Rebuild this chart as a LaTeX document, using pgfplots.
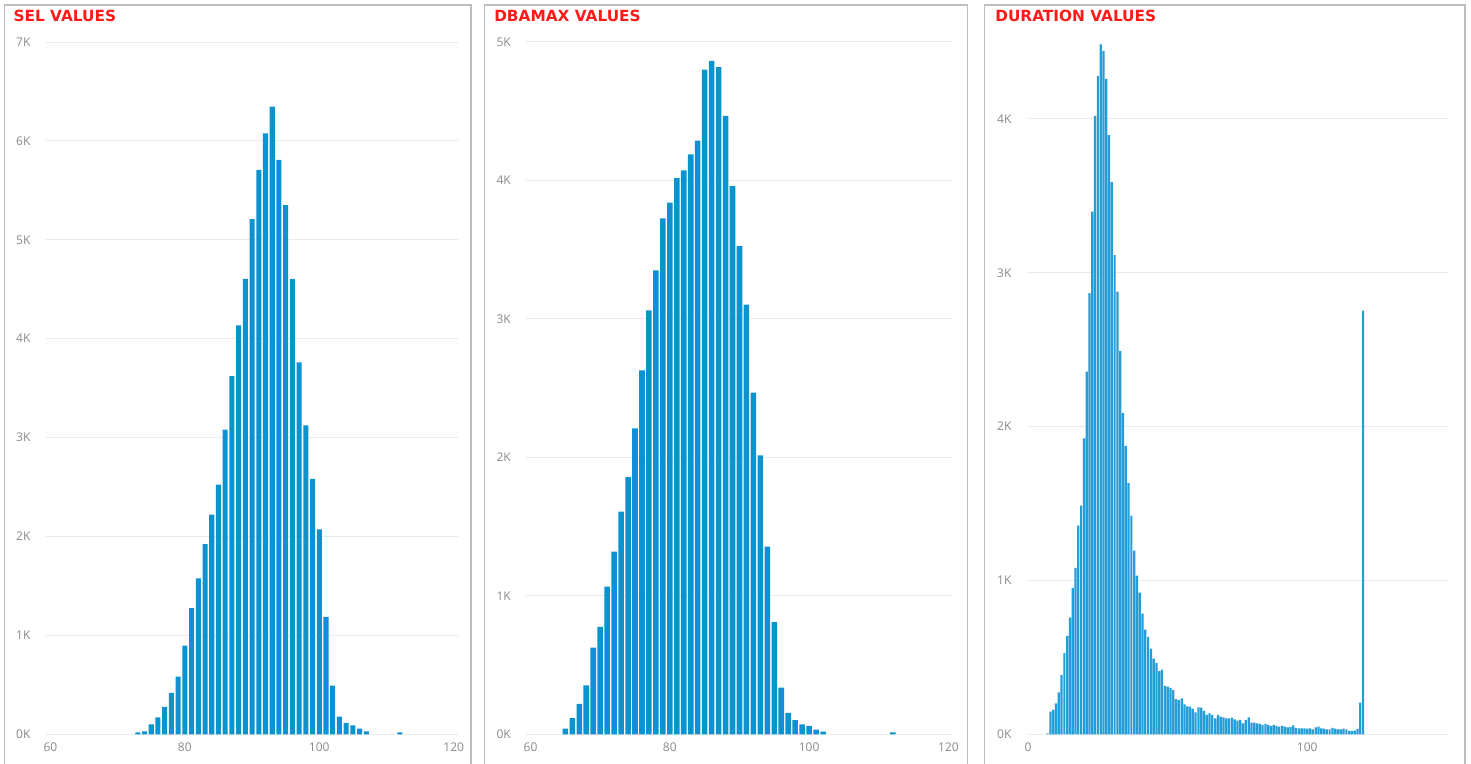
\documentclass[border=0pt]{standalone}
\usepackage{fontspec}
\setmainfont{Open Sans}
\newfontfamily\titlefont{DejaVu Sans}
\usepackage{pgfplots}
\pgfplotsset{compat=1.18}
\definecolor{barblue}{HTML}{0A93CF}
\definecolor{durblue}{HTML}{259DD7}
\definecolor{tickgray}{HTML}{8A8A8A}
\definecolor{gridgray}{HTML}{EBEBEB}
\definecolor{framegray}{HTML}{BDBDBD}
\definecolor{titlered}{HTML}{FF1A1A}
\pgfplotsset{
  panel/.style={
    scale only axis, ybar, ymin=0,
    height=519.2pt,
    axis line style={draw=none},
    major tick length=0pt,
    ymajorgrids, grid style={gridgray, line width=0.75pt},
    tick label style={font=\fontsize{9}{10}\selectfont, text=tickgray, inner sep=0pt},
    yticklabel style={anchor=east, xshift=-11.25pt},
    xticklabel style={anchor=north, yshift=-6.3pt},
    anchor=south west,
  }
}
\begin{document}
\begin{tikzpicture}
\useasboundingbox (0,0) rectangle (1103.25pt,573pt);
\fill[white] (0,0) rectangle (1103.25pt,573pt);
% frames
\begin{scope}[framegray, line width=1.1pt]
\draw (3.5pt,-5pt) |- (353.25pt,569.25pt) -- (353.25pt,-5pt);
\draw (363.5pt,-5pt) |- (725.5pt,569.25pt) -- (725.5pt,-5pt);
\draw (738.4pt,-5pt) |- (1098.75pt,569.25pt) -- (1098.75pt,-5pt);
\end{scope}
% titles
\begin{scope}[every node/.style={anchor=base west, inner sep=0pt, text=titlered, font=\titlefont\fontsize{11.5}{13}\selectfont\bfseries}]
\node at (10pt,557pt) {SEL VALUES};
\node at (370.5pt,557pt) {DBAMAX VALUES};
\node at (746.25pt,557pt) {DURATION VALUES};
\end{scope}

\begin{axis}[panel, at={(34.3pt,22.3pt)}, width=309pt,
  xmin=59.3, xmax=120.6, ymax=7000,
  xtick={60,80,100,120}, xticklabels={60,80,100,120},
  ytick={0,1000,2000,3000,4000,5000,6000,7000},
  yticklabels={0K,1K,2K,3K,4K,5K,6K,7K},
  bar width=0.75]
\addplot[fill=barblue, draw=none] coordinates {
(73,20) (74,30) (75,100) (76,172) (77,276) (78,418) (79,582) (80,896)
(81,1276) (82,1576) (83,1923) (84,2222) (85,2525) (86,3081) (87,3622)
(88,4134) (89,4606) (90,5208) (91,5707) (92,6077) (93,6347) (94,5808)
(95,5350) (96,4602) (97,3761) (98,3124) (99,2582) (100,2071) (101,1188)
(102,491) (103,178) (104,114) (105,91) (106,57) (107,30) (112,20)};
\end{axis}

\begin{axis}[panel, at={(394.5pt,22.3pt)}, width=319.7pt,
  xmin=59.35, xmax=120.55, ymax=5000,
  xtick={60,80,100,120}, xticklabels={60,80,100,120},
  ytick={0,1000,2000,3000,4000,5000},
  yticklabels={0K,1K,2K,3K,4K,5K},
  bar width=0.8]
\addplot[fill=barblue, draw=none] coordinates {
(65,41) (66,116) (67,219) (68,354) (69,626) (70,775) (71,1066) (72,1319)
(73,1608) (74,1858) (75,2209) (76,2629) (77,3061) (78,3350) (79,3726)
(80,3839) (81,4017) (82,4073) (83,4189) (84,4288) (85,4801) (86,4863)
(87,4818) (88,4466) (89,3959) (90,3526) (91,3104) (92,2468) (93,2014)
(94,1356) (95,810) (96,337) (97,154) (98,103) (99,72) (100,60) (101,34)
(102,19) (112,14)};
\end{axis}

\begin{axis}[panel, at={(770pt,22.3pt)}, width=316.2pt,
  xmin=-0.5, xmax=150.5, ymax=4500,
  xtick={0,100}, xticklabels={0,100},
  ytick={0,1000,2000,3000,4000},
  yticklabels={0K,1K,2K,3K,4K},
  bar width=0.8]
\addplot[fill=durblue, draw=none] coordinates {
(7,6) (8,147) (9,158) (10,201) (11,272) (12,384) (13,527) (14,639) (15,758)
(16,950) (17,1082) (18,1356) (19,1486) (20,1924) (21,2358) (22,2867)
(23,3398) (24,4020) (25,4280) (26,4484) (27,4443) (28,4261) (29,3894)
(30,3589) (31,3114) (32,2878) (33,2492) (34,2087) (35,1874) (36,1632)
(37,1421) (38,1194) (39,1032) (40,920) (41,784) (42,680) (43,633) (44,557)
(45,492) (46,464) (47,410) (48,421) (49,315) (50,309) (51,302) (52,287)
(53,229) (54,222) (55,233) (56,195) (57,182) (58,180) (59,165) (60,142)
(61,174) (62,173) (63,152) (64,126) (65,136) (66,126) (67,104) (68,126)
(69,115) (70,110) (71,104) (72,104) (73,108) (74,97) (75,89) (76,93)
(77,71) (78,93) (79,110) (80,76) (81,76) (82,71) (83,67) (84,61) (85,67)
(86,61) (87,54) (88,61) (89,54) (90,50) (91,54) (92,50) (93,45) (94,48)
(95,58) (96,41) (97,39) (98,39) (99,39) (100,37) (101,39) (102,32)
(103,45) (104,50) (105,39) (106,37) (107,32) (108,32) (109,41) (110,37)
(111,32) (112,32) (113,37) (114,32) (115,22) (116,22) (117,24) (118,35)
(119,205) (120,2754)};
\end{axis}
\end{tikzpicture}
\end{document}
